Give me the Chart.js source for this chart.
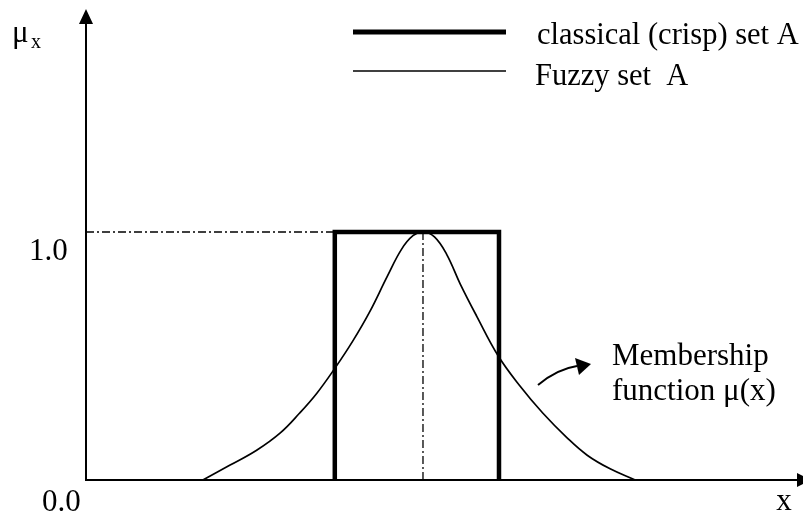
<!DOCTYPE html>
<html>
<head>
<meta charset="utf-8">
<script src="https://cdn.jsdelivr.net/npm/chart.js@4/dist/chart.umd.min.js"></script>
<style>
  html, body { margin: 0; padding: 0; background: #fff; }
  canvas { display: block; }
</style>
</head>
<body>
<canvas id="c" width="803" height="513" style="width:803px;height:513px"></canvas>
<script>
// ---- data (x in arbitrary units 0..10, y = membership degree) ----
const fuzzyX = [1.63, 2.01, 2.38, 2.71, 2.98, 3.22, 3.47, 3.72, 3.96, 4.20, 4.40, 4.56, 4.70, 4.86, 5.03, 5.22, 5.45, 5.75, 6.05, 6.37, 6.71, 6.99, 7.31, 7.66];
const fuzzyY = [0.00, 0.06, 0.12, 0.19, 0.27, 0.35, 0.45, 0.56, 0.68, 0.82, 0.93, 0.985, 1.00, 0.98, 0.91, 0.79, 0.66, 0.50, 0.38, 0.27, 0.17, 0.10, 0.045, 0.00];
const crispX = [3.47, 3.47, 5.76, 5.76];
const crispY = [0, 1, 1, 0];
const peakX = 4.70;
const yTickLabels = ['0.0', '1.0'];
const legendLabels = ['classical (crisp) set A', 'Fuzzy set  A'];
const axisLabels = { y: 'μ', ySub: 'x', x: 'x' };
const noteLines = ['Membership', 'function μ(x)'];

const xMin = 0, xMax = 10, yMin = 0, yMax = 1.895;

const toPts = (xs, ys) => xs.map((x, i) => ({ x, y: ys[i] }));
const hGuide = [{ x: xMin, y: 1 }, { x: crispX[1], y: 1 }];
const vGuide = [{ x: peakX, y: 1 }, { x: peakX, y: 0 }];

const SERIF = '"Liberation Serif", "Times New Roman", serif';
const DASHDOT = [8, 3, 2, 3];

const decor = {
  id: 'decor',
  beforeDatasetsDraw(chart) {
    const { ctx, chartArea: a, scales: { x, y } } = chart;
    const x0 = x.getPixelForValue(0), y0 = y.getPixelForValue(0);
    ctx.save();
    ctx.strokeStyle = '#000'; ctx.fillStyle = '#000'; ctx.lineWidth = 2;
    ctx.beginPath(); ctx.moveTo(x0, y0 + 1); ctx.lineTo(x0, a.top + 12); ctx.stroke();
    ctx.beginPath(); ctx.moveTo(x0, a.top - 1); ctx.lineTo(x0 - 7, a.top + 14); ctx.lineTo(x0 + 7, a.top + 14); ctx.closePath(); ctx.fill();
    ctx.beginPath(); ctx.moveTo(x0 - 1, y0); ctx.lineTo(a.right - 4, y0); ctx.stroke();
    ctx.beginPath(); ctx.moveTo(a.right + 8, y0); ctx.lineTo(a.right - 6, y0 - 7); ctx.lineTo(a.right - 6, y0 + 7); ctx.closePath(); ctx.fill();
    ctx.restore();
  },
  afterDraw(chart) {
    const { ctx, scales: { x, y } } = chart;
    const y0 = y.getPixelForValue(0), y1 = y.getPixelForValue(1);
    ctx.save();
    ctx.fillStyle = '#000'; ctx.strokeStyle = '#000';
    ctx.textBaseline = 'alphabetic'; ctx.textAlign = 'left';
    ctx.font = '31px ' + SERIF; ctx.fillText(axisLabels.y, 12, 42);
    ctx.font = '20px ' + SERIF; ctx.fillText(axisLabels.ySub, 31, 48);
    ctx.font = '31px ' + SERIF;
    ctx.fillText(yTickLabels[1], 29, y1 + 28);
    ctx.fillText(yTickLabels[0], 42, y0 + 31);
    ctx.textAlign = 'center';
    ctx.fillText(axisLabels.x, 784, y0 + 30);
    ctx.textAlign = 'left';
    ctx.fillText(noteLines[0], 612, 365);
    ctx.fillText(noteLines[1], 612, 400);
    ctx.lineWidth = 5;
    ctx.beginPath(); ctx.moveTo(353, 32); ctx.lineTo(506, 32); ctx.stroke();
    ctx.lineWidth = 1.5;
    ctx.beginPath(); ctx.moveTo(353, 71); ctx.lineTo(506, 71); ctx.stroke();
    ctx.font = '30.5px ' + SERIF;
    ctx.fillText(legendLabels[0], 537, 44);
    ctx.fillText(legendLabels[1], 535, 85);
    ctx.lineWidth = 2;
    ctx.beginPath(); ctx.moveTo(538, 385); ctx.quadraticCurveTo(557, 369, 577, 366); ctx.stroke();
    ctx.beginPath(); ctx.moveTo(591, 364); ctx.lineTo(575, 358); ctx.lineTo(579, 375); ctx.closePath(); ctx.fill();
    ctx.restore();
  }
};

new Chart(document.getElementById('c'), {
  type: 'line',
  data: {
    datasets: [
      { data: hGuide, borderColor: '#000', borderWidth: 1.3, borderDash: DASHDOT, pointRadius: 0, tension: 0 },
      { data: vGuide, borderColor: '#000', borderWidth: 1.3, borderDash: DASHDOT, pointRadius: 0, tension: 0 },
      { data: toPts(fuzzyX, fuzzyY), borderColor: '#000', borderWidth: 1.7, pointRadius: 0, tension: 0.4 },
      { data: toPts(crispX, crispY), borderColor: '#000', borderWidth: 4.5, pointRadius: 0, tension: 0, borderJoinStyle: 'miter', borderCapStyle: 'butt' }
    ]
  },
  options: {
    responsive: false,
    animation: false,
    layout: { padding: { left: 86, top: 10, right: 0, bottom: 33 } },
    plugins: { legend: { display: false }, tooltip: { enabled: false } },
    scales: {
      x: { type: 'linear', min: xMin, max: xMax, display: false },
      y: { type: 'linear', min: yMin, max: yMax, display: false }
    }
  },
  plugins: [decor]
});
</script>
</body>
</html>
